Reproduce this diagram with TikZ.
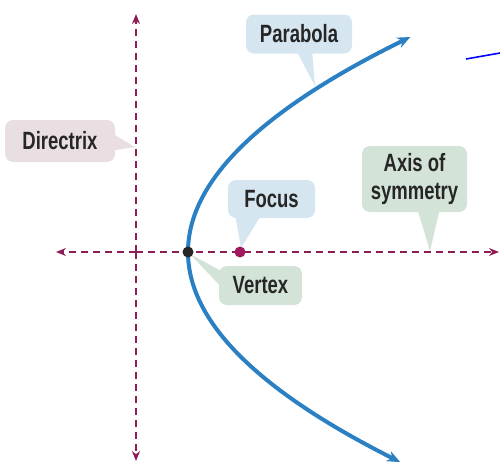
\documentclass[tikz,border=0pt]{standalone}
\usepackage{fontspec}
\newfontfamily\lblfont{Liberation Sans}[FakeStretch=0.74]
\usetikzlibrary{arrows.meta}
\definecolor{axiscol}{HTML}{8C1D55}
\definecolor{parcol}{HTML}{2A80C2}
\definecolor{bluefill}{HTML}{D6E6F0}
\definecolor{pinkfill}{HTML}{E9DFE3}
\definecolor{greenfill}{HTML}{D4E3D7}
\definecolor{txtcol}{HTML}{262626}
\definecolor{focuscol}{HTML}{A3185C}
\tikzset{
  guide/.style={draw=axiscol, line width=1.6pt, dash pattern=on 7pt off 5pt, -{Stealth[length=10pt,width=8pt]}},
  bubble/.style={rounded corners=8pt, inner sep=0pt, text=txtcol, font=\lblfont\bfseries\fontsize{25}{28}\selectfont, align=center},
  curvestyle/.style={draw=parcol, line width=4pt, {Stealth[length=13pt,width=11pt]}-{Stealth[length=13pt,width=11pt]}},
  dotstyle/.style={circle, inner sep=0pt, minimum size=11pt}
}
\begin{document}
\begin{tikzpicture}[x=1pt,y=-1pt]
\useasboundingbox (0,0) rectangle (500,464);
% guides
\coordinate (dtop) at (136,14);
\coordinate (dbot) at (136,461);
\coordinate (aleft) at (56,252);
\coordinate (aright) at (499,252);
\coordinate (mid) at (136,252);
\draw[guide] (mid) -- (dtop);
\draw[guide] (mid) -- (dbot);
\draw[guide] (mid) -- (aleft);
\draw[guide] (mid) -- (aright);
% parabola
\draw[curvestyle] plot[domain=-215:210, samples=120, smooth] ({188+(\x/14.42)*(\x/14.42)}, {252+\x});
% stray blue stroke
\coordinate (s1) at (466,59);
\coordinate (s2) at (500,53);
\draw[blue, line width=1.6pt] (s1) -- (s2);
% labels
\node[bubble, fill=bluefill, minimum width=106pt, minimum height=39pt] (lpar) at (299,34) {Parabola};
\coordinate (tpar) at (315,86);
\fill[bluefill] (296,50) -- (312,50) -- (tpar) -- cycle;

\node[bubble, fill=pinkfill, minimum width=110pt, minimum height=42pt] (ldir) at (60,141) {Directrix};
\coordinate (tdir) at (135,147);
\fill[pinkfill] (110,132) -- (110,151) -- (tdir) -- cycle;

\node[bubble, fill=bluefill, minimum width=87pt, minimum height=38pt] (lfoc) at (271.5,199) {Focus};
\coordinate (tfoc) at (241,248);
\fill[bluefill] (235,214) -- (262,214) -- (tfoc) -- cycle;

\node[bubble, fill=greenfill, minimum width=83pt, minimum height=39pt] (lver) at (260.5,285.5) {Vertex};
\coordinate (tver) at (190,254);
\fill[greenfill] (223,272) -- (223,289) -- (tver) -- cycle;

\node[bubble, fill=greenfill, minimum width=105pt, minimum height=66pt] (laxs) at (414.5,179) {Axis of\\symmetry};
\coordinate (taxs) at (430,251);
\fill[greenfill] (417,208) -- (440,208) -- (taxs) -- cycle;
% points
\node[dotstyle, fill=black!85] (V) at (188,252) {};
\node[dotstyle, fill=focuscol] (F) at (240,252) {};
\end{tikzpicture}
\end{document}
